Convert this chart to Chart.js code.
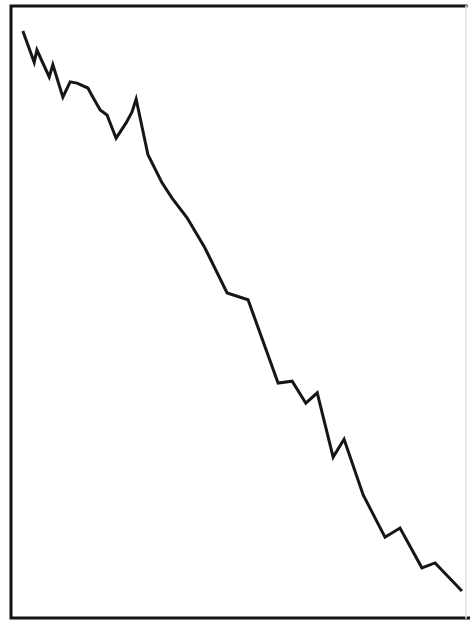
<!DOCTYPE html>
<html>
<head>
<meta charset="utf-8">
<script src="https://cdn.jsdelivr.net/npm/chart.js@4/dist/chart.umd.min.js"></script>
<style>
  html, body { margin: 0; padding: 0; background: #fff; }
  #wrap { width: 470px; height: 621px; }
</style>
</head>
<body>
<div id="wrap"><canvas id="chart"></canvas></div>
<script>
// x positions (0..100 across the box) and y values (0..100 up the box)
const xs = [2.6, 5.1, 5.7, 8.4, 9.2, 11.4, 13.0, 14.5, 16.9, 18.0, 19.6, 21.1, 23.1, 25.3, 26.6, 27.5,
            30.1, 33.2, 35.4, 38.7, 42.6, 47.5, 52.1, 58.7, 61.8, 64.8, 67.3, 70.8, 73.2, 77.4, 82.2,
            85.5, 90.3, 93.2, 99.1];
const ys = [95.9, 90.8, 92.8, 88.4, 90.4, 85.1, 87.6, 87.4, 86.6, 85.1, 83.0, 82.2, 78.4, 80.9, 82.7, 84.8,
            75.7, 71.1, 68.6, 65.4, 60.5, 53.1, 52.0, 38.4, 38.7, 35.1, 36.8, 26.3, 29.2, 20.1, 13.2,
            14.7, 8.2, 9.0, 4.4];

const points = xs.map((x, i) => ({ x: x, y: ys[i] }));

// frame round the plot area: heavy on left/top/bottom, faint on the right
const framePlugin = {
  id: 'frame',
  afterDraw(chart) {
    const { ctx, chartArea: a } = chart;
    ctx.save();
    ctx.lineCap = 'square';
    ctx.strokeStyle = '#111';
    ctx.lineWidth = 3;
    ctx.beginPath();
    ctx.moveTo(a.right, a.top);
    ctx.lineTo(a.left, a.top);
    ctx.lineTo(a.left, a.bottom);
    ctx.lineTo(a.right + 4, a.bottom);
    ctx.stroke();
    ctx.strokeStyle = '#e4e4e4';
    ctx.lineWidth = 1.5;
    ctx.beginPath();
    ctx.moveTo(a.right, a.top);
    ctx.lineTo(a.right, a.bottom);
    ctx.stroke();
    ctx.restore();
  }
};

new Chart(document.getElementById('chart'), {
  type: 'line',
  data: {
    datasets: [{
      data: points,
      borderColor: '#161616',
      borderWidth: 3,
      pointRadius: 0,
      tension: 0,
      fill: false
    }]
  },
  options: {
    responsive: true,
    maintainAspectRatio: false,
    animation: false,
    layout: { padding: { left: 11, top: 6, right: 4, bottom: 3 } },
    plugins: { legend: { display: false }, tooltip: { enabled: false } },
    scales: {
      x: { type: 'linear', min: 0, max: 100, display: false },
      y: { min: 0, max: 100, display: false }
    }
  },
  plugins: [framePlugin]
});
</script>
</body>
</html>
